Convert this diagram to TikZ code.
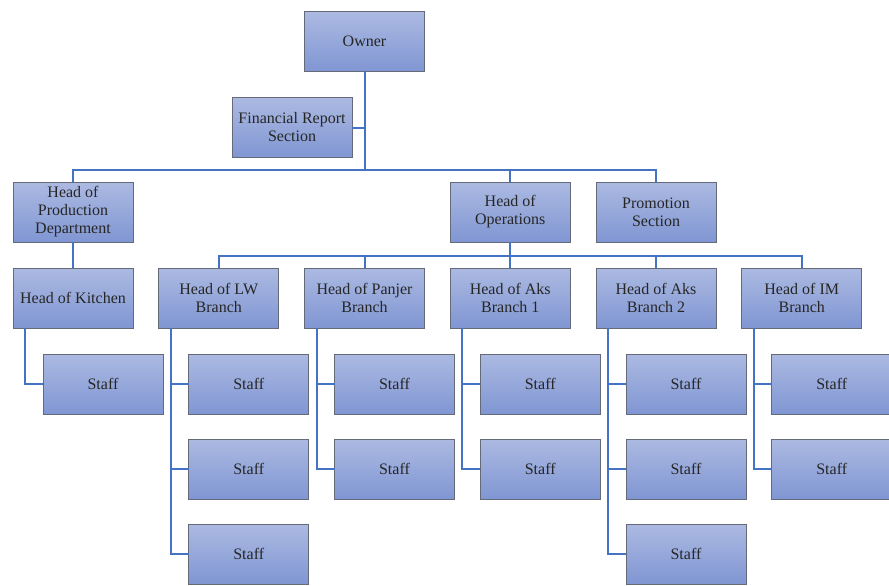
\documentclass[tikz,border=0pt]{standalone}
\usepackage{fontspec}
\setmainfont{Liberation Serif}
\usetikzlibrary{positioning}

\definecolor{linkblue}{RGB}{68,114,196}
\definecolor{boxtop}{RGB}{172,186,226}
\definecolor{boxbot}{RGB}{128,150,211}
\definecolor{boxline}{RGB}{100,106,120}

\begin{document}
\begin{tikzpicture}[x=1pt,y=1pt,node distance=26pt and 25.75pt,
    box/.style={draw=boxline,line width=0.8pt,top color=boxtop,bottom color=boxbot,
        minimum width=120pt,minimum height=60pt,inner sep=1pt,outer sep=0pt,align=center,
        font=\fontsize{16}{18}\selectfont,text=black!85},
    link/.style={draw=linkblue,line width=2pt}]
        \useasboundingbox (0,0) rectangle (889,-586);

        \node[box] (owner) at (364.5,-41.5) {Owner};
        \node[box] (fin) [below=26pt of owner, xshift=-72.5pt] {Financial Report\\Section};

        \node[box] (kitchen) at (73,-298) {Head of Kitchen};
        \node[box] (lw) [right=of kitchen] {Head of LW\\Branch};
        \node[box] (panjer) [right=of lw] {Head of Panjer\\Branch};
        \node[box] (aks1) [right=of panjer] {Head of Aks\\Branch 1};
        \node[box] (aks2) [right=of aks1] {Head of Aks\\Branch 2};
        \node[box] (im) [right=of aks2] {Head of IM\\Branch};

        \node[box] (prod) [above=of kitchen] {Head of\\Production\\Department};
        \node[box] (ops) [above=of aks1] {Head of\\Operations};
        \node[box] (promo) [above=of aks2] {Promotion\\Section};

        \node[box] (ks1) [below=of kitchen, xshift=30pt] {Staff};
        \node[box] (lws1) [below=of lw, xshift=30pt] {Staff};
        \node[box] (lws2) [below=25pt of lws1] {Staff};
        \node[box] (lws3) [below=25pt of lws2] {Staff};
        \node[box] (ps1) [below=of panjer, xshift=30pt] {Staff};
        \node[box] (ps2) [below=25pt of ps1] {Staff};
        \node[box] (a1s1) [below=of aks1, xshift=30pt] {Staff};
        \node[box] (a1s2) [below=25pt of a1s1] {Staff};
        \node[box] (a2s1) [below=of aks2, xshift=30pt] {Staff};
        \node[box] (a2s2) [below=25pt of a2s1] {Staff};
        \node[box] (a2s3) [below=25pt of a2s2] {Staff};
        \node[box] (ims1) [below=of im, xshift=30pt] {Staff};
        \node[box] (ims2) [below=25pt of ims1] {Staff};

        % top levels
        \coordinate (bus) at ([yshift=12pt]ops.north);
        \coordinate (bus2) at ([yshift=12pt]aks1.north);
        \draw[link] (owner.south) -- (owner.south |- bus);
        \draw[link] (fin.east) -- (fin.east -| owner.south);
        \draw[link] (prod.north) |- (bus) -| (promo.north);
        \draw[link] (ops.north) -- (bus);
        \draw[link] (prod) -- (kitchen);
        \draw[link] (ops) -- (aks1);
        \draw[link] (lw.north) |- (bus2) -| (im.north);
        \draw[link] (panjer.north) -- (panjer.north |- bus2);
        \draw[link] (aks2.north) -- (aks2.north |- bus2);

        % staff
        \draw[link] ([xshift=12pt]kitchen.south west) |- (ks1.west);
        \draw[link] ([xshift=12pt]lw.south west) |- (lws3.west);
        \draw[link] ([xshift=12pt]panjer.south west) |- (ps2.west);
        \draw[link] ([xshift=12pt]aks1.south west) |- (a1s2.west);
        \draw[link] ([xshift=12pt]aks2.south west) |- (a2s3.west);
        \draw[link] ([xshift=12pt]im.south west) |- (ims2.west);
        \foreach \s in {lws1,lws2,ps1,a1s1,a2s1,a2s2,ims1}
            \draw[link] (\s.west) -- ++(-18,0);
\end{tikzpicture}
\end{document}
